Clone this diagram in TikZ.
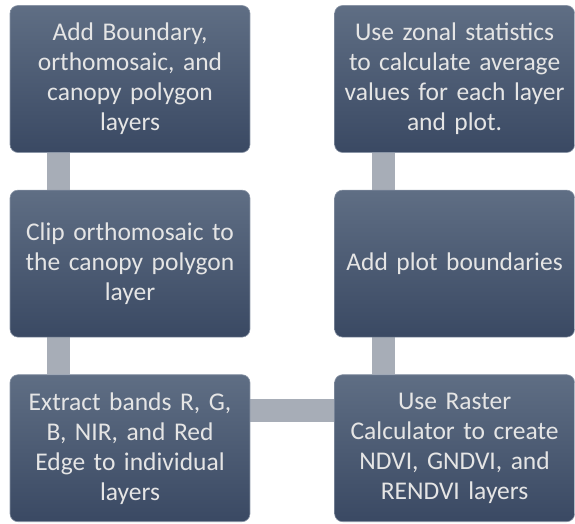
\documentclass[tikz,border=0pt]{standalone}
\usepackage{fontspec}
\setmainfont{Carlito}
\usetikzlibrary{positioning,backgrounds}
\definecolor{boxtop}{HTML}{5F6E84}
\definecolor{boxbottom}{HTML}{3A4963}
\definecolor{boxline}{HTML}{8A95A6}
\definecolor{barcol}{HTML}{A7ADB7}
\tikzset{
	stepbox/.style={
		rounded corners=8pt,
		top color=boxtop, bottom color=boxbottom,
		draw=boxline, line width=0.6pt,
		minimum width=240pt, minimum height=147pt,
		text width=234pt, align=center, inner sep=0pt,
		text=white!90!black,
		font=\fontsize{25.5}{30}\selectfont
	},
	bar/.style={draw=barcol, line width=23pt}
}

\begin{document}
\begin{tikzpicture}[x=1pt, y=1pt, node distance=37pt and 84pt]
	\useasboundingbox (0,0) rectangle (575,-523);
	% left column
	\node[stepbox] (add) at (130,-79) {Add Boundary,\\ orthomosaic, and\\ canopy polygon\\ layers};
	\node[stepbox, below=of add] (clip) {Clip orthomosaic to\\ the canopy polygon\\ layer};
	\node[stepbox, below=of clip] (extract) {Extract bands R, G,\\ B, NIR, and Red\\ Edge to individual\\ layers};
	% right column
	\node[stepbox, right=of extract] (raster) {Use Raster\\ Calculator to create\\ NDVI, GNDVI, and\\ RENDVI layers};
	\node[stepbox, above=of raster] (plot) {Add plot boundaries};
	\node[stepbox, above=of plot] (zonal) {Use zonal statistics\\ to calculate average\\ values for each layer\\ and plot.};
	% connectors
	\begin{scope}[on background layer]
		\draw[bar] ([xshift=49pt]add.south west) -- ([xshift=49pt]clip.north west);
		\draw[bar] ([xshift=49pt]clip.south west) -- ([xshift=49pt]extract.north west);
		\draw[bar] ([yshift=-36pt]extract.north east) -- ([yshift=-36pt]raster.north west);
		\draw[bar] ([xshift=49pt]raster.north west) -- ([xshift=49pt]plot.south west);
		\draw[bar] ([xshift=49pt]plot.north west) -- ([xshift=49pt]zonal.south west);
	\end{scope}
\end{tikzpicture}
\end{document}
